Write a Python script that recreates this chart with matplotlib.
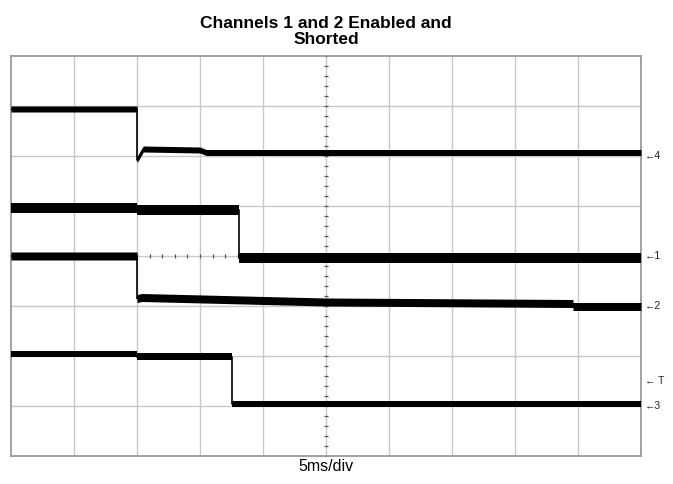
import numpy as np
import matplotlib
matplotlib.use("Agg")
import matplotlib.pyplot as plt

plt.rcParams["font.family"] = ["Liberation Sans", "DejaVu Sans"]

# time in ms (5 ms/div, 10 divisions), levels in divisions from screen centre
ch4_t = [0, 10, 10, 10.5, 15, 15.5, 50]
ch4_v = [2.94, 2.94, 1.92, 2.14, 2.12, 2.07, 2.07]

ch1_t = [0, 10, 10, 18.1, 18.1, 50]
ch1_v = [0.96, 0.96, 0.92, 0.92, -0.03, -0.03]

ch2_t = [0, 10, 10, 10.4, 25, 44.6, 44.6, 50]
ch2_v = [0.0, 0.0, -0.85, -0.83, -0.92, -0.95, -1.01, -1.01]

ch3_t = [0, 10, 10, 17.5, 17.5, 50]
ch3_v = [-1.96, -1.96, -2.01, -2.01, -2.96, -2.96]

traces = [
    (ch4_t, ch4_v, 0.06),
    (ch1_t, ch1_v, 0.10),
    (ch2_t, ch2_v, 0.08),
    (ch3_t, ch3_v, 0.065),
]

# right hand markers: (label, level)
markers = [("4", 2.0), ("1", 0.0), ("2", -1.0), (" T", -2.5), ("3", -3.0)]

fig = plt.figure(figsize=(6.73, 4.84), dpi=100)
ax = fig.add_axes([11 / 673, 28 / 484, 630 / 673, 400 / 484])

ax.set_xlim(0, 50)
ax.set_ylim(-4, 4)

grid_c = "#c8c8c8"
for x in np.arange(5, 50, 5):
    ax.axvline(x, color=grid_c, lw=1.0, zorder=1)
for y in np.arange(-3, 4, 1):
    ax.axhline(y, color=grid_c, lw=1.0, zorder=1)

# graticule minor marks on centre lines
ax.plot(np.arange(0, 50.01, 1), np.zeros(51), ls="none", marker="|",
        ms=2.5, color="#555555", mew=0.9, zorder=2)
ax.plot(np.full(41, 25), np.arange(-4, 4.01, 0.2), ls="none", marker="_",
        ms=2.5, color="#555555", mew=0.9, zorder=2)

for t, v, h in traces:
    t = np.array(t)
    v = np.array(v)
    ax.fill_between(t, v - h, v + h, color="black", lw=0, zorder=3)
    ax.plot(t, v, color="black", lw=1.2, zorder=3)

for lab, y in markers:
    ax.annotate("\u2190" + lab, xy=(1.0, y), xycoords=("axes fraction", "data"),
                xytext=(3, 0), textcoords="offset points",
                fontsize=7.5, va="center", ha="left", color="#222222",
                annotation_clip=False)

for s in ax.spines.values():
    s.set_color("#9a9a9a")
    s.set_linewidth(1.3)

ax.set_xticks([])
ax.set_yticks([])

ax.set_title("Channels 1 and 2 Enabled and\nShorted", fontsize=12.5,
             fontweight="bold", pad=9, linespacing=1.05)
ax.set_xlabel("5ms/div", fontsize=11.5, labelpad=2)

fig.savefig("out.png", dpi=100)
